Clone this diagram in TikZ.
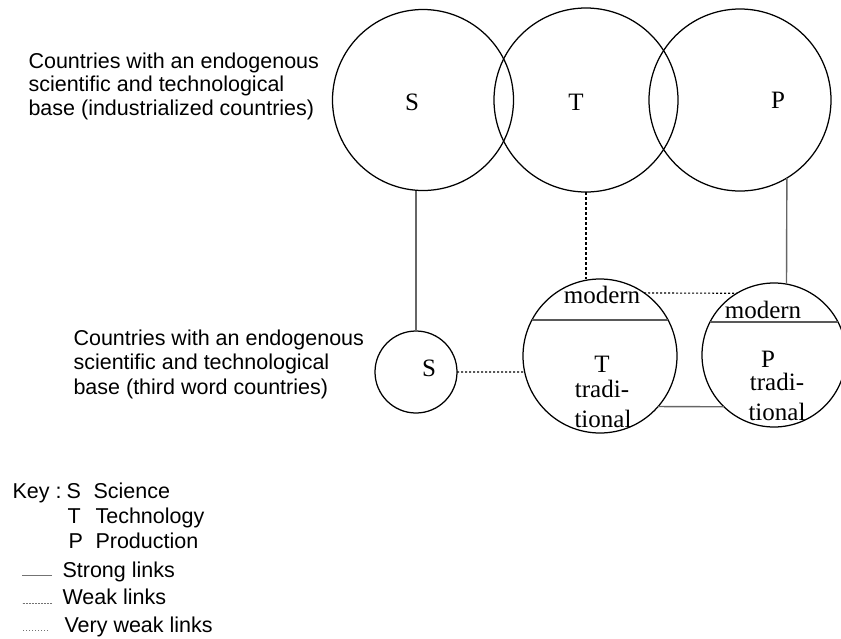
\documentclass[tikz,border=0pt]{standalone}
\usepackage{fontspec}
\setmainfont{Liberation Serif}
\newfontfamily\arialfont{Liberation Sans}
\usepackage{tikz}

\begin{document}
\begin{tikzpicture}[x=1pt,y=-1pt,
    ring/.style={draw,circle,line width=1.25pt,inner sep=0pt,outer sep=0pt},
    lbl/.style={anchor=base,inner sep=0pt,font=\fontsize{25}{27}\selectfont},
    note/.style={anchor=base west,align=left,font=\arialfont\fontsize{21.5}{23.5}\selectfont},
    strong/.style={draw=black!60,line width=1.4pt},
    weak/.style={line width=1.1pt,dash pattern=on 3pt off 2pt},
    veryweak/.style={line width=1.1pt,dash pattern=on 2pt off 2pt},
    divider/.style={draw=black!65,line width=1.7pt},
    keyline/.style={draw=black!55,line width=.6pt}]
  \useasboundingbox (0,0) rectangle (841,638);

  % industrialized countries
  \node[note] (rich) at (25,115) {Countries with an endogenous\\scientific and technological\\base (industrialized countries)};
  \node[ring,minimum size=181pt] (Shi) at (423,100) {};
  \node[ring,minimum size=184pt] (Thi) at (586,100) {};
  \node[ring,minimum size=182pt] (Phi) at (740,100) {};
  \node[lbl] (Shilbl) at (412,110) {S};
  \node[lbl] (Thilbl) at (576,110) {T};
  \node[lbl] (Philbl) at (778,108) {P};

  % third world countries
  \node[note,font=\arialfont\fontsize{21.5}{24.5}\selectfont] (poor) at (70,394) {Countries with an endogenous\\scientific and technological\\base (third word countries)};
  \node[ring,minimum size=82pt] (Slo) at (416,372) {};
  \node[ring,minimum size=154pt] (Tlo) at (600,356) {};
  \node[ring,minimum size=144pt] (Plo) at (774,355) {};
  \node[lbl] (Slolbl) at (429,376) {S};

  \draw[divider] (Tlo.28) -- (Tlo.152);
  \draw[divider] (Plo.27) -- (Plo.153);
  \node[lbl] (Tmod) at (602,303) {modern};
  \node[lbl] (Tlolbl) at (602,372) {T};
  \node[lbl] (Ttr) at (602,397) {tradi-};
  \node[lbl] (Ttn) at (603,427) {tional};
  \node[lbl] (Pmod) at (763,318) {modern};
  \node[lbl] (Plolbl) at (768,367) {P};
  \node[lbl] (Ptr) at (777,390) {tradi-};
  \node[lbl] (Ptn) at (777,420) {tional};

  % links
  \draw[strong] (Slo.north) -- (Shi.south -| Slo.north);
  \draw[strong] (Phi.-59) -- (Plo.80);
  \draw[strong] (Tlo.-41) -- (Plo.226);
  \draw[weak] (Thi.south) -- (Tlo.north -| Thi.south);
  \draw[veryweak] (Tlo.55) -- (Plo.121);
  \draw[veryweak] (Slo.east) -- (Tlo.192);

  % key
  \node[note] (key) at (9,498) {Key :};
  \node[note] (keyS) at (63,498) {S};
  \node[note] (keySc) at (90,498) {Science};
  \node[note] (keyT) at (64,523) {T};
  \node[note] (keyTe) at (92,523) {Technology};
  \node[note] (keyP) at (65,548) {P};
  \node[note] (keyPr) at (92,548) {Production};
  \node[note] (kstrong) at (59,577) {Strong links};
  \node[note] (kweak) at (59,604) {Weak links};
  \node[note] (kvweak) at (61,632) {Very weak links};
  \draw[keyline] ([shift={(-7,-2)}]kstrong.base west) -- ++(-30,0);
  \draw[keyline,dash pattern=on 2pt off 1pt] ([shift={(-7,-1)}]kweak.base west) -- ++(-30,0);
  \draw[keyline,dash pattern=on 1.2pt off 1.8pt] ([shift={(-13,-2)}]kvweak.base west) -- ++(-26,0);
\end{tikzpicture}
\end{document}
